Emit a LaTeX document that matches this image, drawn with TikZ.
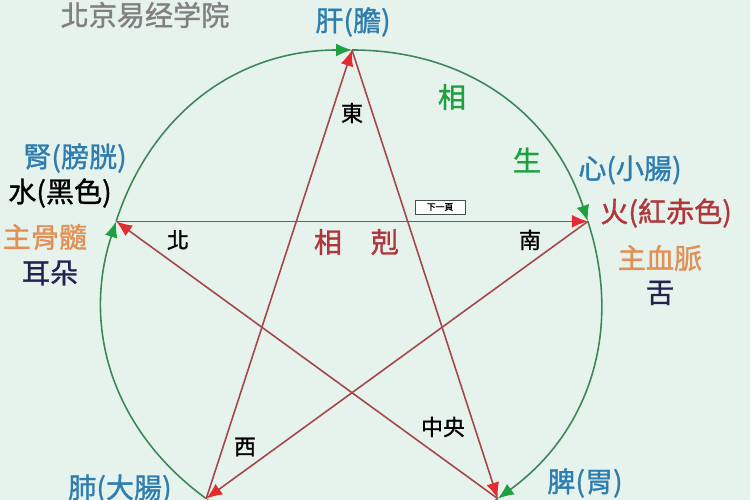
\documentclass[tikz,border=0pt]{standalone}
\usepackage{fontspec}
\newfontfamily\cjk{Noto Sans CJK TC}[FakeBold=1.2]
\usetikzlibrary{arrows.meta}
\definecolor{bgmint}{RGB}{230,242,236}
\definecolor{kered}{RGB}{165,70,75}
\definecolor{kehead}{RGB}{225,45,50}
\definecolor{shgreen}{RGB}{60,135,90}
\definecolor{shhead}{RGB}{30,160,65}
\definecolor{organ}{RGB}{45,125,175}
\definecolor{orng}{RGB}{225,145,85}
\definecolor{navy}{RGB}{35,35,80}
\definecolor{firered}{RGB}{175,55,60}

\begin{document}
\begin{tikzpicture}[
    ke/.style={draw=kered,line width=0.9pt,-{Latex[length=3.2mm,width=2.6mm,color=kehead]}},
    sheng/.style={draw=shgreen,line width=0.9pt,-{Latex[length=3.2mm,width=2.6mm,color=shhead]}},
    lbl/.style={font=\cjk\fontsize{16}{18}\selectfont,inner sep=0pt},
    dir/.style={font=\cjk\fontsize{12.5}{14}\selectfont,inner sep=0pt}]
  \fill[bgmint] (0,0) rectangle (15,10);
  \useasboundingbox (0,0) rectangle (15,10);
  % the five points
  \begin{scope}[shift={(7.04,4.04)}]
    \coordinate (mu)   at (90:4.96);
    \coordinate (huo)  at (18:4.96);
    \coordinate (tu)   at (306:4.96);
    \coordinate (jin)  at (234:4.96);
    \coordinate (shui) at (162:4.96);
  \end{scope}
  % xiang sheng circle
  \draw[sheng] (shui) to[bend left=36] (mu);
  \draw[sheng] (mu) to[bend left=36] (huo);
  \draw[sheng] (huo) to[bend left=36] (tu);
  \draw[sheng] (tu) to[bend left=36] (jin);
  \draw[sheng] (jin) to[bend left=36] (shui);
  % xiang ke star
  \draw[ke] (jin) -- (mu);
  \draw[ke] (mu) -- (tu);
  \draw[ke] (shui) -- (huo);
  \draw[ke] (tu) -- (shui);
  \draw[ke] (huo) -- (jin);
  % labels
  \node[lbl,text=gray] (school) at (2.9,9.7) {北京易经学院};
  \node[lbl,text=organ] (gan) at (7.06,9.56) {肝(膽)};
  \node[lbl,text=shhead] (xiang1) at (9.04,8.06) {相};
  \node[lbl,text=shhead] (sheng1) at (10.54,6.8) {生};
  \node[dir] (dong) at (7.04,7.74) {東};
  \node[lbl,text=organ] (xin) at (12.6,6.6) {心(小腸)};
  \node[lbl,text=firered,anchor=west] (fire) at (12.0,5.74) {火(紅赤色)};
  \node[lbl,text=orng] (xuemai) at (13.2,4.84) {主血脈};
  \node[lbl,text=navy] (she) at (13.2,4.14) {舌};
  \node[lbl,text=organ] (shen) at (1.5,6.84) {腎(膀胱)};
  \node[lbl] (water) at (1.2,6.14) {水(黑色)};
  \node[lbl,text=orng] (gusui) at (0.9,5.26) {主骨髓};
  \node[lbl,text=navy] (erduo) at (1.0,4.54) {耳朵};
  \node[dir] (bei) at (3.56,5.2) {北};
  \node[lbl,text=firered] (xiang2) at (6.56,5.16) {相};
  \node[lbl,text=firered] (ke2) at (7.7,5.16) {剋};
  \node[draw=black!70,fill=white!85!bgmint,font=\cjk\fontsize{5}{5}\selectfont,
        minimum width=1cm,minimum height=0.28cm,inner sep=0pt] (next) at (8.8,5.86) {下一頁};
  \node[dir] (nan) at (10.6,5.2) {南};
  \node[dir] (xi) at (4.9,1.06) {西};
  \node[dir] (zhong) at (8.86,1.46) {中央};
  \node[lbl,text=organ] (fei) at (2.4,0.22) {肺(大腸)};
  \node[lbl,text=organ] (pi) at (11.7,0.34) {脾(胃)};
\end{tikzpicture}
\end{document}
